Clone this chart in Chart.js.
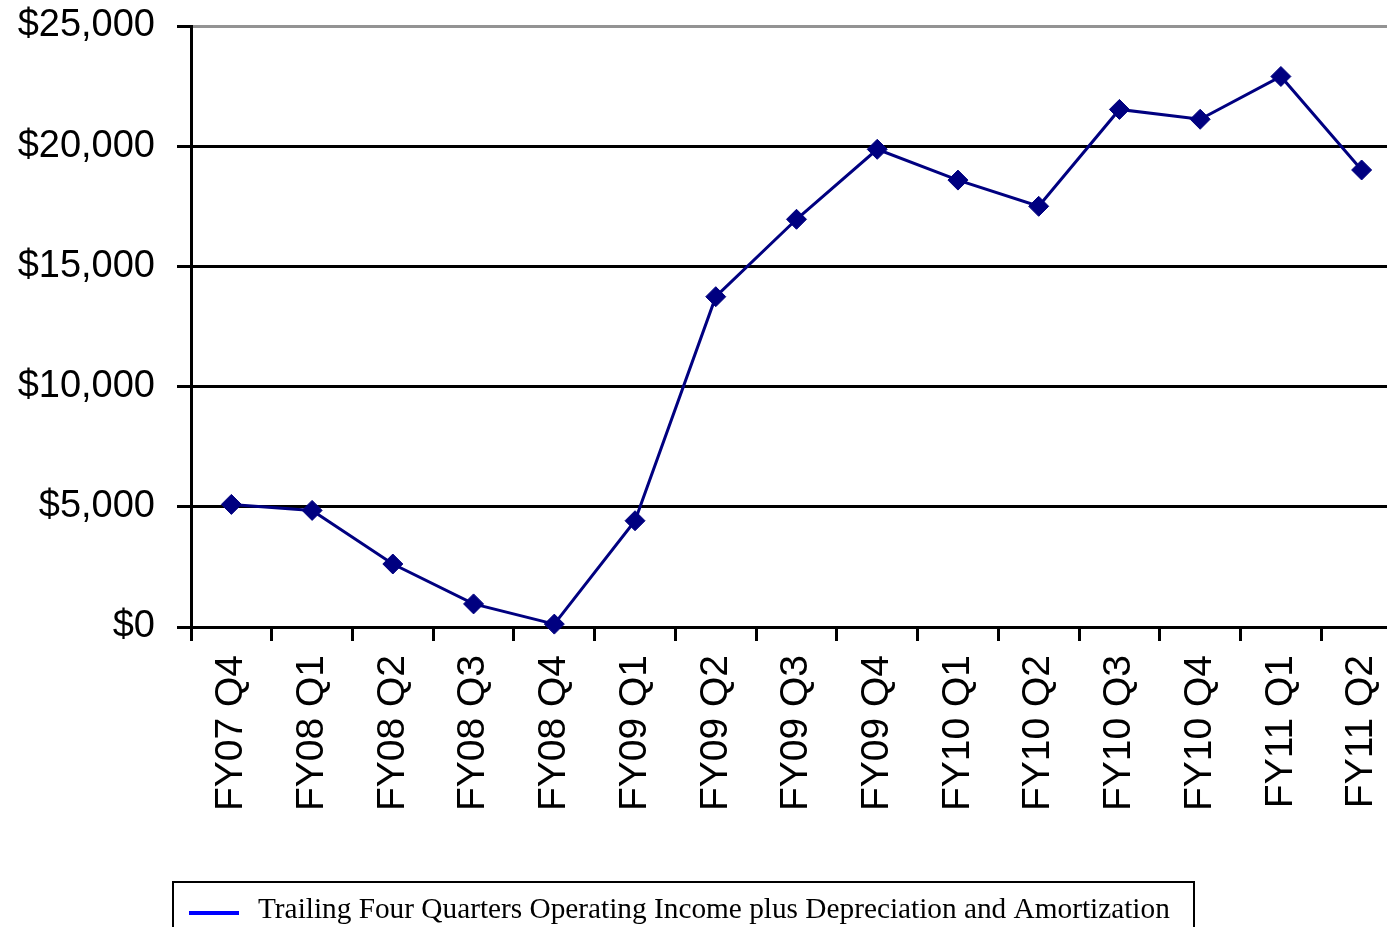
<!DOCTYPE html>
<html>
<head>
<meta charset="utf-8">
<title>Trailing Four Quarters Operating Income plus Depreciation and Amortization</title>
<script src="https://cdn.jsdelivr.net/npm/chart.js@4/dist/chart.umd.min.js"></script>
<style>
  html, body { margin: 0; padding: 0; background: #fff; overflow: hidden; }
  #wrap { width: 1387px; height: 927px; overflow: hidden; position: relative; }
  canvas { display: block; }
</style>
</head>
<body>
<div id="wrap"><canvas id="c" width="1402" height="960"></canvas></div>
<script>
// Fiscal quarters on the category axis
const quarters = ['FY07 Q4', 'FY08 Q1', 'FY08 Q2', 'FY08 Q3', 'FY08 Q4',
                  'FY09 Q1', 'FY09 Q2', 'FY09 Q3', 'FY09 Q4',
                  'FY10 Q1', 'FY10 Q2', 'FY10 Q3', 'FY10 Q4',
                  'FY11 Q1', 'FY11 Q2'];

// Trailing four quarters operating income plus D&A (in thousands of dollars)
const oibda = [5100, 4850, 2620, 960, 120,
               4420, 13740, 16960, 19870,
               18590, 17500, 21530, 21120,
               22900, 19010];

const seriesName = 'Trailing Four Quarters Operating Income plus Depreciation and Amortization';

// Value axis ticks
const yTicks = [0, 5000, 10000, 15000, 20000, 25000];

const sansFont = "'Liberation Sans', Arial, sans-serif";
const serifFont = "'Liberation Serif', 'Times New Roman', serif";

// Boxed legend under the axis labels
const boxedLegend = {
  id: 'boxedLegend',
  afterDraw(chart) {
    const ctx = chart.ctx;
    const ds = chart.data.datasets[0];
    ctx.save();
    ctx.strokeStyle = '#000';
    ctx.lineWidth = 2;
    ctx.strokeRect(173, 882, 1021, 120);
    ctx.strokeStyle = '#0000ff';
    ctx.lineWidth = 4;
    ctx.beginPath();
    ctx.moveTo(189, 913);
    ctx.lineTo(239, 913);
    ctx.stroke();
    ctx.fillStyle = '#000';
    ctx.font = '29.3px ' + serifFont;
    ctx.textBaseline = 'alphabetic';
    ctx.textAlign = 'left';
    ctx.fillText(ds.label, 258, 918);
    ctx.restore();
  }
};

new Chart(document.getElementById('c'), {
  type: 'line',
  data: {
    labels: quarters,
    datasets: [{
      label: seriesName,
      data: oibda,
      borderColor: '#000080',
      backgroundColor: '#000080',
      borderWidth: 3,
      pointStyle: 'rectRot',
      pointRadius: 10,
      pointHoverRadius: 10,
      pointBorderWidth: 1,
      pointBackgroundColor: '#000080',
      pointBorderColor: '#000080',
      tension: 0,
      fill: false,
      clip: false
    }]
  },
  options: {
    responsive: false,
    animation: false,
    devicePixelRatio: 1,
    layout: { autoPadding: false, padding: { top: 26, left: 0, right: 0, bottom: 0 } },
    plugins: {
      legend: { display: false },
      tooltip: { enabled: false },
      title: { display: false }
    },
    scales: {
      x: {
        type: 'category',
        offset: true,
        afterFit(scale) {
          scale.height = 960 - 627;
          scale.paddingLeft = 0;
          scale.paddingRight = 0;
        },
        grid: {
          offset: true,
          drawOnChartArea: false,
          drawTicks: true,
          tickLength: 14,
          tickWidth: 3,
          tickColor: '#000',
          lineWidth: 3,
          color: '#000'
        },
        border: { display: true, color: '#000', width: 3 },
        ticks: {
          autoSkip: false,
          minRotation: 90,
          maxRotation: 90,
          padding: 14,
          color: '#000',
          font: { family: sansFont, size: 39 }
        }
      },
      y: {
        min: yTicks[0],
        max: yTicks[yTicks.length - 1],
        afterFit(scale) {
          scale.width = 191;
          scale.paddingTop = 0;
          scale.paddingBottom = 0;
        },
        afterBuildTicks(scale) { scale.ticks = yTicks.map(v => ({ value: v })); },
        grid: {
          color: (c) => (c.tick && c.tick.value === 25000 ? '#939393' : '#000'),
          lineWidth: 3,
          tickLength: 14,
          tickWidth: 3,
          tickColor: '#000'
        },
        border: { display: true, color: '#000', width: 3 },
        ticks: {
          padding: 22,
          color: '#000',
          font: { family: sansFont, size: 38 },
          callback: (v) => '$' + Number(v).toLocaleString('en-US')
        }
      }
    }
  },
  plugins: [boxedLegend]
});
</script>
</body>
</html>
